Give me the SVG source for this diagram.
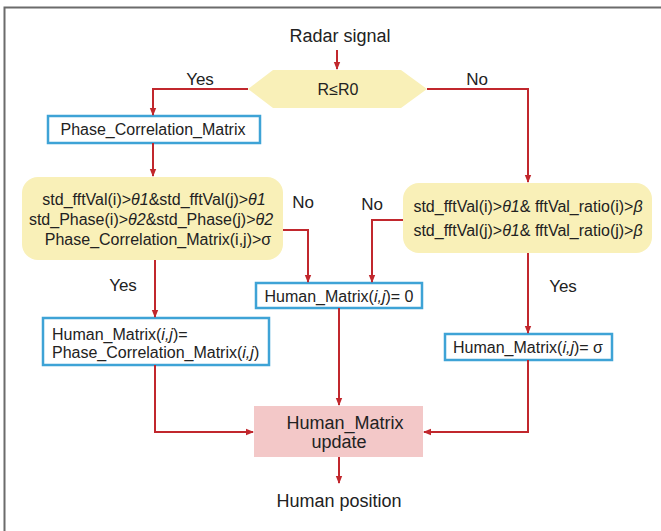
<svg xmlns="http://www.w3.org/2000/svg" width="661" height="531" viewBox="0 0 661 531">
<style>
text{font-family:"Liberation Sans",Arial,sans-serif;fill:#222;}
.t16{font-size:16px;}
.t18{font-size:18px;}
.lbl{font-size:17px;}
.c{text-anchor:middle;}
.box{fill:#fff;stroke:#3ea3d6;stroke-width:2.5;}
.cond{fill:#f9f0b8;stroke:none;}
.conn path{fill:none;stroke:#c1272d;stroke-width:2;marker-end:url(#ah);}
</style>
<defs>
<marker id="ah" markerUnits="userSpaceOnUse" markerWidth="8" markerHeight="8" viewBox="0 0 8 8" refX="7" refY="4" orient="auto">
<path d="M0,0.8 L8,4 L0,7.2 Z" fill="#c1272d"/>
</marker>
</defs>
<rect x="0" y="0" width="661" height="531" fill="#fff"/>
<path d="M4.5,540 V7.5 H670" fill="none" stroke="#6b6b6b" stroke-width="2"/>

<g id="radar"><text class="t18 c" x="340" y="42">Radar signal</text></g>
<g id="decision1">
<polygon class="cond" points="248,89 273,70 401,70 427,89 401,108 273,108" stroke="#f9f0b8" stroke-width="1.5" stroke-linejoin="round"/>
<text class="t16 c" x="338" y="95">R≤R0</text>
</g>
<g id="phase">
<rect class="box" x="48" y="116" width="212" height="27"/>
<text class="t16 c" x="153" y="135">Phase_Correlation_Matrix</text>
</g>
<g id="cond-left">
<rect class="cond" x="22" y="177" width="261" height="83" rx="16"/>
<text class="t16 c" x="154" y="205">std_fftVal(i)&gt;<tspan font-style="italic">θ1</tspan>&amp;std_fftVal(j)&gt;<tspan font-style="italic">θ1</tspan></text>
<text class="t16 c" x="151" y="225">std_Phase(i)&gt;<tspan font-style="italic">θ2</tspan>&amp;std_Phase(j)&gt;<tspan font-style="italic">θ2</tspan></text>
<text class="t16 c" x="158" y="245">Phase_Correlation_Matrix(i,j)&gt;σ</text>
</g>
<g id="cond-right">
<rect class="cond" x="403" y="183" width="249" height="70" rx="16"/>
<text class="t16 c" x="528" y="212">std_fftVal(i)&gt;<tspan font-style="italic">θ1</tspan>&amp; fftVal_ratio(i)&gt;<tspan font-style="italic">β</tspan></text>
<text class="t16 c" x="528" y="236">std_fftVal(j)&gt;<tspan font-style="italic">θ1</tspan>&amp; fftVal_ratio(j)&gt;<tspan font-style="italic">β</tspan></text>
</g>
<g id="hm-zero">
<rect class="box" x="256" y="283" width="166" height="25"/>
<text class="t16 c" x="339" y="302">Human_Matrix(<tspan font-style="italic">i,j</tspan>)= 0</text>
</g>
<g id="hm-phase">
<rect class="box" x="43" y="318" width="226" height="47"/>
<text class="t16" x="52" y="340">Human_Matrix(<tspan font-style="italic">i,j</tspan>)=</text>
<text class="t16" x="52" y="358">Phase_Correlation_Matrix(<tspan font-style="italic">i,j</tspan>)</text>
</g>
<g id="hm-sigma">
<rect class="box" x="445" y="334" width="167" height="26"/>
<text class="t16 c" x="528" y="353">Human_Matrix(<tspan font-style="italic">i,j</tspan>)= σ</text>
</g>
<g id="update">
<rect x="254" y="406" width="169" height="51" fill="#f3c8c8"/>
<text class="t18 c" x="345" y="429">Human_Matrix</text>
<text class="t18 c" x="339" y="448">update</text>
</g>
<g id="position"><text class="t18 c" x="339" y="507">Human position</text></g>

<g id="labels">
<text class="lbl c" x="200" y="85">Yes</text>
<text class="lbl c" x="477" y="85">No</text>
<text class="lbl c" x="303" y="208">No</text>
<text class="lbl c" x="372" y="210">No</text>
<text class="lbl c" x="123" y="291">Yes</text>
<text class="lbl c" x="563" y="292">Yes</text>
</g>

<g id="connectors" class="conn">
<path d="M337,50 V69"/>
<path d="M248,89 H153 V115"/>
<path d="M427,89 H528 V182"/>
<path d="M153,143 V176"/>
<path d="M283,230 H308 V282"/>
<path d="M155,260 V317"/>
<path d="M403,220 H372 V282"/>
<path d="M528,253 V333"/>
<path d="M339,308 V405"/>
<path d="M155,365 V432 H253"/>
<path d="M528,360 V432 H424"/>
<path d="M339,457 V483"/>
</g>
</svg>
